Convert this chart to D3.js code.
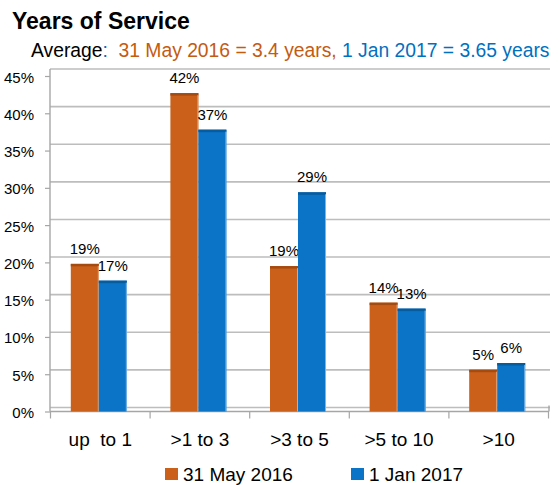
<!DOCTYPE html>
<html>
<head>
<meta charset="utf-8">
<script src="https://cdn.jsdelivr.net/npm/d3@7"></script>
<style>
  body { margin: 0; background: #fff; }
  svg { display: block; font-family: "Liberation Sans", Arial, sans-serif; }
  .pre { white-space: pre; }
</style>
</head>
<body>
<svg id="chart" width="560" height="485"></svg>
<script>
const categories = ["up  to 1", ">1 to 3", ">3 to 5", ">5 to 10", ">10"];
const seriesNames = ["31 May 2016", "1 Jan 2017"];
const may2016 = [19.4, 42.3, 19.1, 14.2, 5.2];
const jan2017 = [17.15, 37.4, 29.0, 13.4, 6.1];
const dataLabels2016 = ["19%", "42%", "19%", "14%", "5%"];
const dataLabels2017 = ["17%", "37%", "29%", "13%", "6%"];
const yTicks = [0, 5, 10, 15, 20, 25, 30, 35, 40, 45];

const colors = ["#CB601A", "#0B74C7"];
const topColors = ["#A44B12", "#075C9E"];
const textOrange = "#C55A11";
const textBlue = "#0070C0";

const svg = d3.select("#chart");

// Title
svg.append("text").attr("x", 12).attr("y", 29)
  .attr("font-size", 23).attr("font-weight", "bold").attr("fill", "#000")
  .text("Years of Service");

const sub = svg.append("text").attr("class", "pre").attr("x", 31).attr("y", 57).attr("font-size", 19.3);
sub.append("tspan").attr("fill", "#000").text("Average");
sub.append("tspan").attr("fill", textBlue).text(":  ");
sub.append("tspan").attr("fill", textOrange).text("31 May 2016 = 3.4 years, ");
sub.append("tspan").attr("fill", textBlue).text("1 Jan 2017 = 3.65 years");

// Scales
const x = d3.scaleBand().domain(categories).range([50.5, 548.5]);
const y = d3.scaleLinear().domain([0, 45]).range([411.5, 76]);
const yWall = d3.scaleLinear().domain([0, 45]).range([407.5, 69]);

const gridColor = "#BDBDBD";

// Back wall gridlines
svg.append("g").selectAll("line").data(yTicks).join("line")
  .attr("x1", 50).attr("x2", 550)
  .attr("y1", d => yWall(d)).attr("y2", d => yWall(d))
  .attr("stroke", gridColor).attr("stroke-width", 1.6);

// Left wall / y axis line
svg.append("line").attr("x1", 50).attr("x2", 50)
  .attr("y1", yWall(45)).attr("y2", y(0))
  .attr("stroke", "#A6A6A6").attr("stroke-width", 1.4);

// Floor bottom edge / x axis
svg.append("line").attr("x1", 50).attr("x2", 549)
  .attr("y1", y(0)).attr("y2", y(0))
  .attr("stroke", "#A6A6A6").attr("stroke-width", 1.6);
svg.append("line").attr("x1", 549).attr("x2", 549)
  .attr("y1", yWall(0) - 2).attr("y2", y(0))
  .attr("stroke", "#A6A6A6").attr("stroke-width", 1.4);

// Y axis ticks and labels
const yAxis = d3.axisLeft(y).tickValues(yTicks).tickSize(5).tickFormat(d => d + "%");
const gy = svg.append("g").attr("transform", "translate(50,0)").call(yAxis);
gy.select(".domain").remove();
gy.selectAll(".tick line").attr("stroke", "#A6A6A6").attr("stroke-width", 1.2);
gy.selectAll(".tick text").attr("font-size", 15).attr("fill", "#000")
  .attr("font-family", "Liberation Sans, Arial, sans-serif")
  .attr("x", -16).attr("dy", "0.4em");

// X axis ticks at band boundaries
const boundaries = categories.map(c => x(c)).concat([x.range()[1]]);
svg.append("g").selectAll("line").data(boundaries).join("line")
  .attr("x1", d => d).attr("x2", d => d)
  .attr("y1", y(0)).attr("y2", y(0) + 7)
  .attr("stroke", "#A6A6A6").attr("stroke-width", 1.2);

// Category labels
svg.append("g").selectAll("text").data(categories).join("text")
  .attr("class", "pre")
  .attr("x", d => x(d) + x.bandwidth() / 2)
  .attr("y", 446)
  .attr("text-anchor", "middle").attr("font-size", 19).attr("fill", "#000")
  .text(d => d);

// Bars
const barW = 28;
const series = [may2016, jan2017];
const labels = [dataLabels2016, dataLabels2017];
series.forEach((vals, si) => {
  const g = svg.append("g");
  const bx = (c) => x(c) + x.bandwidth() / 2 - 29.5 + si * barW;
  g.selectAll("rect.face").data(categories).join("rect")
    .attr("class", "face")
    .attr("x", c => bx(c))
    .attr("y", (c, i) => y(vals[i]) - 3)
    .attr("width", barW)
    .attr("height", (c, i) => y(0) - y(vals[i]) + 3)
    .attr("fill", colors[si]);
  g.selectAll("rect.top").data(categories).join("rect")
    .attr("class", "top")
    .attr("x", c => bx(c))
    .attr("y", (c, i) => y(vals[i]) - 3)
    .attr("width", barW)
    .attr("height", 2.5)
    .attr("fill", topColors[si]);
  g.selectAll("line.edge").data(categories).join("line")
    .attr("class", "edge")
    .attr("x1", c => bx(c) + barW - 0.5).attr("x2", c => bx(c) + barW - 0.5)
    .attr("y1", (c, i) => y(vals[i]) - 1).attr("y2", y(0))
    .attr("stroke", si === 0 ? "#E0A77E" : "#7DB4E4").attr("stroke-width", 1);
  g.selectAll("text").data(categories).join("text")
    .attr("x", c => bx(c) + barW / 2)
    .attr("y", (c, i) => y(vals[i]) - 13)
    .attr("text-anchor", "middle").attr("font-size", 15).attr("fill", "#000")
    .text((c, i) => labels[si][i]);
});

// Legend
const legend = [{ x: 165, name: seriesNames[0], color: colors[0] },
                { x: 351, name: seriesNames[1], color: colors[1] }];
const lg = svg.append("g").selectAll("g").data(legend).join("g");
lg.append("rect").attr("x", d => d.x).attr("y", 468).attr("width", 13).attr("height", 12)
  .attr("fill", d => d.color);
lg.append("text").attr("x", d => d.x + 18).attr("y", 481)
  .attr("font-size", 19).attr("fill", "#000").text(d => d.name);
</script>
</body>
</html>
